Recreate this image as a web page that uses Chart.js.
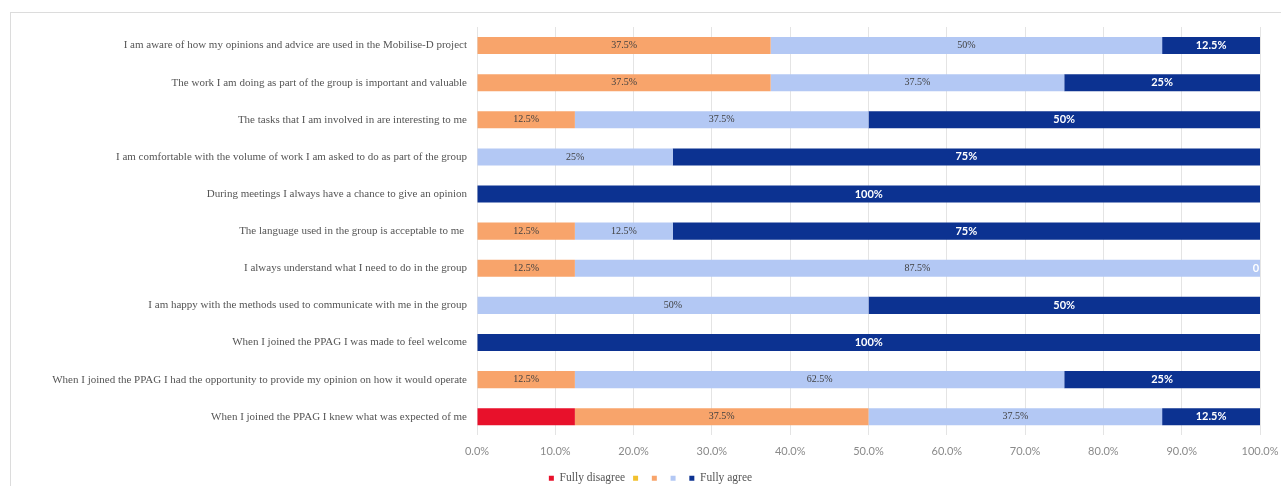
<!DOCTYPE html>
<html>
<head>
<meta charset="utf-8">
<script src="https://cdn.jsdelivr.net/npm/chart.js@4"></script>
<style>
  body { margin: 0; background: #fff; }
  #frame { position: absolute; left: 10px; top: 12px; width: 1290px; height: 500px; border: 1px solid #dcdcdc; }
  #wrap { position: absolute; left: 0; top: 0; width: 1281px; height: 486px; }
</style>
</head>
<body>
<div id="frame"></div>
<div id="wrap"><canvas id="myChart" width="1281" height="486"></canvas></div>
<script>
  const categories = [
    "I am aware of how my opinions and advice are used in the Mobilise-D project",
    "The work I am doing as part of the group is important and valuable",
    "The tasks that I am involved in are interesting to me",
    "I am comfortable with the volume of work I am asked to do as part of the group",
    "During meetings I always have a chance to give an opinion",
    "The language used in the group is acceptable to me ",
    "I always understand what I need to do in the group",
    "I am happy with the methods used to communicate with me in the group",
    "When I joined the PPAG I was made to feel welcome",
    "When I joined the PPAG I had the opportunity to provide my opinion on how it would operate",
    "When I joined the PPAG I knew what was expected of me"
  ];
  var fullyDisagree = [0, 0, 0, 0, 0, 0, 0, 0, 0, 0, 12.5];
  var disagree = [0, 0, 0, 0, 0, 0, 0, 0, 0, 0, 0];
  var neutral = [37.5, 37.5, 12.5, 0, 0, 12.5, 12.5, 0, 0, 12.5, 37.5];
  var agree = [50, 37.5, 37.5, 25, 0, 12.5, 87.5, 50, 0, 62.5, 37.5];
  var fullyAgree = [12.5, 25, 50, 75, 100, 75, 0, 50, 100, 25, 12.5];

  var legendLabels = ["Fully disagree", "", "", "", "Fully agree"];
  var barColors = ["#e8112b", "#f2c12e", "#f8a46b", "#b3c8f4", "#0c3291"];
  var series = [fullyDisagree, disagree, neutral, agree, fullyAgree];

  // labels in the middle of each segment
  const segmentLabels = {
    id: "segmentLabels",
    afterDatasetsDraw(chart) {
      const ctx = chart.ctx;
      ctx.save();
      ctx.textAlign = "center";
      ctx.textBaseline = "middle";
      chart.data.datasets.forEach((ds, i) => {
        if (i < 2) return;
        const meta = chart.getDatasetMeta(i);
        meta.data.forEach((bar, j) => {
          const v = ds.data[j];
          if (i == 4) {
            ctx.font = "bold 11px Lato";
            ctx.fillStyle = "#ffffff";
            var txt = v === 0 ? "0" : v + "%";
            var x = v === 0 ? bar.x - 4 : (bar.x + bar.base) / 2;
            ctx.fillText(txt, x, bar.y);
          } else if (v > 0) {
            ctx.font = "10px 'Liberation Serif'";
            ctx.fillStyle = "#404040";
            ctx.fillText(v + "%", (bar.x + bar.base) / 2, bar.y);
          }
        });
      });
      ctx.restore();
    }
  };

  // legend sits a bit tighter than the default box
  const tightLegend = {
    id: "tightLegend",
    beforeInit(chart) {
      const fit = chart.legend.fit;
      chart.legend.fit = function () {
        fit.bind(chart.legend)();
        this.height -= 8;
      };
    }
  };

  new Chart("myChart", {
    type: "bar",
    data: {
      labels: categories,
      datasets: series.map((d, i) => ({
        label: legendLabels[i],
        data: d,
        backgroundColor: barColors[i],
        borderWidth: 0,
        barPercentage: 0.46,
        categoryPercentage: 1
      }))
    },
    options: {
      indexAxis: "y",
      responsive: false,
      animation: false,
      layout: { padding: { top: 27, right: 21, bottom: 0, left: 41 } },
      scales: {
        x: {
          stacked: true,
          min: 0,
          max: 100,
          border: { display: false },
          grid: { color: "#e4e4e4", drawTicks: false },
          afterFit: function (scale) {
            scale.paddingRight = 0;
            scale.height -= 4;
          },
          ticks: {
            stepSize: 10,
            padding: 10,
            color: "#8a8a8a",
            font: { family: "Lato", size: 11 },
            callback: function (value) { return value.toFixed(1) + "%"; }
          }
        },
        y: {
          stacked: true,
          border: { display: false },
          grid: { display: false, drawTicks: false },
          afterFit: function (scale) { scale.width = 436; },
          ticks: {
            padding: 10,
            color: "#555555",
            autoSkip: false,
            font: { family: "Liberation Serif", size: 11 }
          }
        }
      },
      plugins: {
        legend: {
          position: "bottom",
          labels: {
            boxWidth: 5,
            boxHeight: 5,
            padding: 8,
            color: "#555555",
            font: { family: "Liberation Serif", size: 11.5 }
          }
        },
        title: { display: false },
        tooltip: { enabled: false }
      }
    },
    plugins: [segmentLabels, tightLegend]
  });
</script>
</body>
</html>
